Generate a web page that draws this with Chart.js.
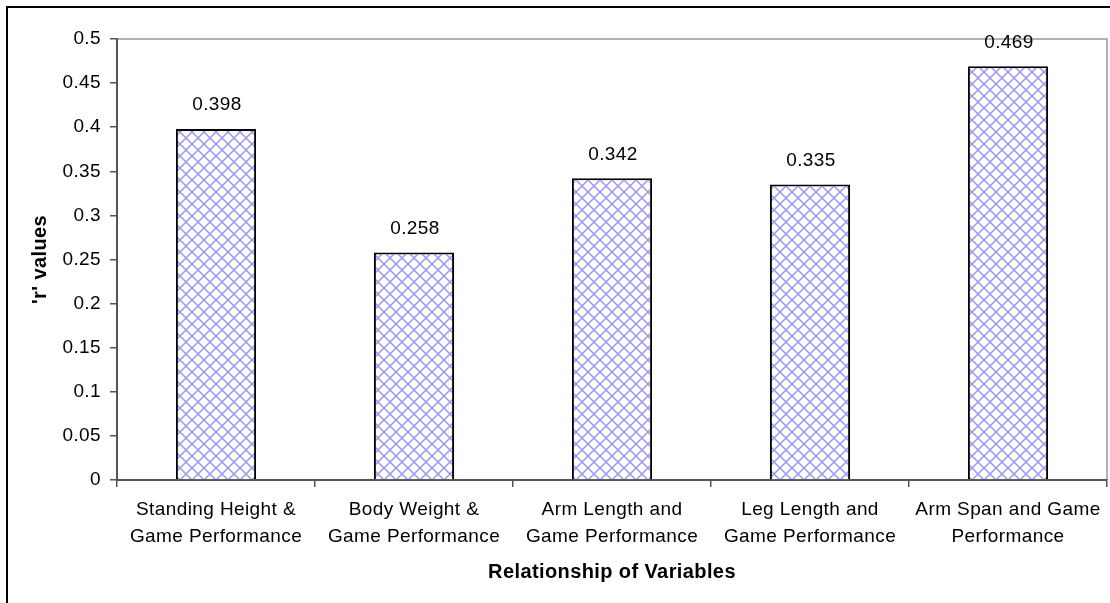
<!DOCTYPE html>
<html>
<head>
<meta charset="utf-8">
<script src="https://cdn.jsdelivr.net/npm/chart.js@4/dist/chart.umd.min.js"></script>
<style>
  html, body { margin: 0; padding: 0; background: #fff; }
  #wrap { width: 1110px; height: 603px; position: relative; }
</style>
</head>
<body>
<div id="wrap"><canvas id="chart" width="1110" height="603"></canvas></div>
<script>
// data
const categories = [
  ['Standing Height &', 'Game Performance'],
  ['Body Weight &', 'Game Performance'],
  ['Arm Length and', 'Game Performance'],
  ['Leg Length and', 'Game Performance'],
  ['Arm Span and Game', 'Performance'],
];
const rValues = [0.398, 0.258, 0.342, 0.335, 0.469];
const yTitle  = "'r' values";
const xTitle  = 'Relationship of Variables';

const FONT = 'Liberation Sans, Arial, sans-serif';

// diagonal cross-hatch fill like the spreadsheet pattern
function hatch() {
  const c = document.createElement('canvas');
  c.width = 12; c.height = 12;
  const g = c.getContext('2d');
  g.fillStyle = '#fff';
  g.fillRect(0, 0, 12, 12);
  g.strokeStyle = '#9898f4';
  g.lineWidth = 1.5;
  g.beginPath();
  g.moveTo(-1, -1); g.lineTo(13, 13);
  g.moveTo(13, -1); g.lineTo(-1, 13);
  g.stroke();
  return g.createPattern(c, 'repeat');
}

// outer box + grey plot-area edge; also widen text a touch like the original
const frame = {
  id: 'frame',
  beforeDraw(chart) {
    const { ctx, chartArea: a } = chart;
    ctx.letterSpacing = '0.4px';
    ctx.save();
    ctx.strokeStyle = '#000';
    ctx.lineWidth = 2;
    ctx.strokeRect(7, 7, 1120, 620);
    ctx.strokeStyle = '#9a9a9a';
    ctx.lineWidth = 1.5;
    ctx.beginPath();
    ctx.moveTo(a.left, a.top);
    ctx.lineTo(a.right, a.top);
    ctx.lineTo(a.right, a.bottom);
    ctx.stroke();
    ctx.restore();
  },
};

const valueLabels = {
  id: 'valueLabels',
  afterDatasetsDraw(chart) {
    const { ctx } = chart;
    const meta = chart.getDatasetMeta(0);
    ctx.save();
    ctx.font = '19px ' + FONT;
    ctx.fillStyle = '#000';
    ctx.textAlign = 'center';
    ctx.textBaseline = 'middle';
    meta.data.forEach((bar, i) => {
      ctx.fillText(rValues[i].toFixed(3), bar.x + 1, bar.y - 24);
    });
    ctx.restore();
  },
};

new Chart(document.getElementById('chart'), {
  type: 'bar',
  data: {
    labels: categories,
    datasets: [{
      data:            rValues,
      backgroundColor: hatch(),
      borderColor:     '#000',
      borderWidth:     2,
      borderSkipped:   'bottom',
      barPercentage:   0.405,
      categoryPercentage: 1,
    }],
  },
  options: {
    responsive: false,
    animation:  false,
    layout: { padding: { top: 39, right: 3, left: 0, bottom: 0 } },
    plugins: { legend: { display: false }, tooltip: { enabled: false } },
    scales: {
      x: {
        offset: true,
        grid:   { offset: true, drawOnChartArea: false, color: '#555', tickLength: 7, lineWidth: 1.5 },
        border: { color: '#555', width: 2 },
        ticks:  { color: '#000', font: { family: FONT, size: 19, lineHeight: 1.42 }, padding: 9, maxRotation: 0, autoSkip: false },
        title:  { display: true, text: xTitle, color: '#000', font: { family: FONT, size: 20, weight: 'bold' }, padding: { top: 0, bottom: 19 } },
        afterFit(s) { s.height = 123; },
      },
      y: {
        min: 0, max: 0.5,
        grid:   { drawOnChartArea: false, color: '#555', tickLength: 7, lineWidth: 1.5 },
        border: { color: '#555', width: 2 },
        ticks:  {
          stepSize: 0.05, color: '#000', padding: 9,
          font: { family: FONT, size: 19 },
          callback: v => String(Number(v.toFixed(2))),
        },
        title:  { display: true, text: yTitle, color: '#000', font: { family: FONT, size: 20, weight: 'bold' }, padding: { top: 28, bottom: 0 } },
        afterFit(s) { s.width = 117; },
      },
    },
  },
  plugins: [frame, valueLabels],
});
</script>
</body>
</html>
